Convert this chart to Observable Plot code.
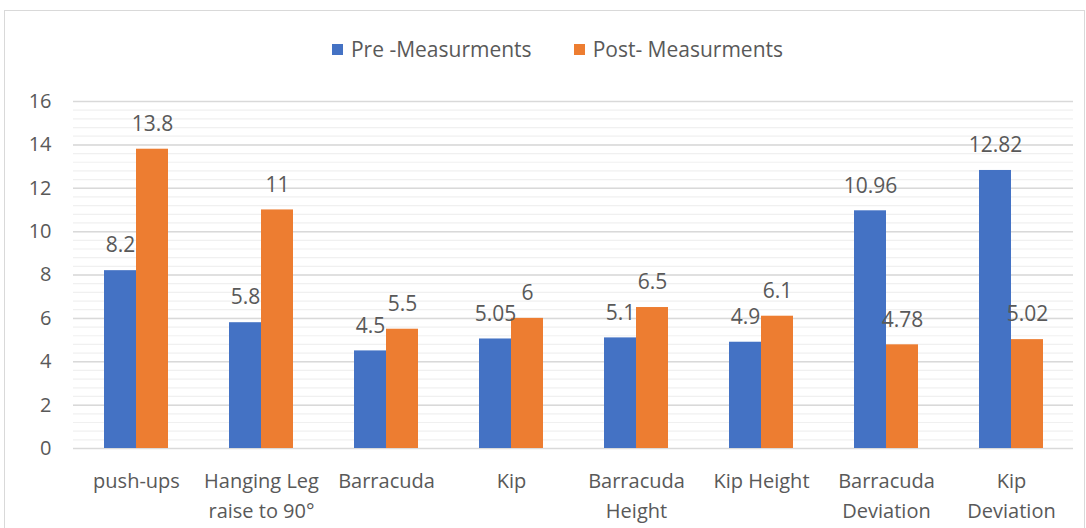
<!DOCTYPE html>
<html>
<head>
<meta charset="utf-8">
<script src="https://cdn.jsdelivr.net/npm/d3@7"></script>
<script src="https://cdn.jsdelivr.net/npm/@observablehq/plot@0.6"></script>
<style>
  html, body { margin: 0; padding: 0; background: #fff; }
  #chart { position: relative; width: 1086px; height: 528px; overflow: hidden;
           font-family: "Open Sans", "Noto Sans", sans-serif; color: #595959; }
  #frame { position: absolute; left: 4px; top: 10px; width: 1081px; height: 530px;
           border: 1.5px solid #d9d9d9; box-sizing: border-box; }
  #legend { position: absolute; top: 35px; left: 0; width: 100%; box-sizing: border-box;
            padding-left: 29px; display: flex; justify-content: center; gap: 42px;
            font-size: 21px; line-height: 28px; }
  #legend span.item { display: flex; align-items: center; gap: 8px; }
  #legend i { display: inline-block; width: 11px; height: 11px; }
  .layer { position: absolute; left: 0; top: 70px; }
</style>
</head>
<body>
<div id="chart">
  <div id="frame"></div>
  <div id="legend"></div>
  <div id="grid" class="layer"></div>
  <div id="bars" class="layer"></div>
</div>
<script>
// Exercise categories and their wrapped axis labels
const categories = ["push-ups", "Hanging Leg raise to 90°", "Barracuda", "Kip",
  "Barracuda Height", "Kip Height", "Barracuda Deviation", "Kip Deviation"];
const categoryLabels = ["push-ups", "Hanging Leg\nraise to 90°", "Barracuda", "Kip",
  "Barracuda\nHeight", "Kip Height", "Barracuda\nDeviation", "Kip\nDeviation"];

// Series
const seriesNames = ["Pre -Measurments", "Post- Measurments"];
const seriesColors = ["#4472C4", "#ED7D31"];
const preValues = [8.2, 5.8, 4.5, 5.05, 5.1, 4.9, 10.96, 12.82];
const postValues = [13.8, 11, 5.5, 6, 6.5, 6.1, 4.78, 5.02];

// Value axis ticks
const yMajorTicks = [0, 2, 4, 6, 8, 10, 12, 14, 16];
const yMinorTicks = d3.range(0, 16.001, 0.4);

const rows = categories.flatMap((c, i) => [
  {category: c, series: seriesNames[0], value: preValues[i]},
  {category: c, series: seriesNames[1], value: postValues[i]}
]);

// Legend
const legend = document.getElementById("legend");
seriesNames.forEach((name, i) => {
  const item = document.createElement("span");
  item.className = "item";
  const sw = document.createElement("i");
  sw.style.background = seriesColors[i];
  item.appendChild(sw);
  item.appendChild(document.createTextNode(name));
  legend.appendChild(item);
});

const labelOf = new Map(categories.map((c, i) => [c, categoryLabels[i]]));

// Shared frame geometry for the two stacked layers
const frame = {
  width: 1086,
  height: 458,
  marginTop: 31,
  marginBottom: 80,
  marginLeft: 73,
  marginRight: 13,
  style: {fontFamily: "'Open Sans', 'Noto Sans', sans-serif", color: "#595959", background: "transparent"}
};
const yScale = {domain: [0, 16], axis: null};

// Back layer: full-width gridlines and the value axis
const gridPlot = Plot.plot({
  ...frame,
  y: yScale,
  marks: [
    Plot.ruleY(yMinorTicks, {stroke: "#f0f0f0", strokeWidth: 1.2}),
    Plot.ruleY(yMajorTicks, {stroke: "#d9d9d9", strokeWidth: 1.5}),
    Plot.axisY({ticks: yMajorTicks, tickSize: 0, tickPadding: 22, fontSize: 20, fill: "#595959", label: null})
  ]
});
document.getElementById("grid").appendChild(gridPlot);

// Front layer: grouped bars, value labels and category axis
const barPlot = Plot.plot({
  ...frame,
  fx: {domain: categories, paddingInner: 0.488, paddingOuter: 0.244, label: null, axis: null},
  x: {domain: seriesNames, padding: 0, axis: null},
  y: yScale,
  color: {domain: seriesNames, range: seriesColors},
  marks: [
    Plot.barY(rows, {fx: "category", x: "series", y: "value", fill: "series"}),
    Plot.text(rows, {fx: "category", x: "series", y: "value", text: d => String(d.value),
      dy: -25, fontSize: 21, fill: "#595959", lineAnchor: "middle"}),
    Plot.axisFx({anchor: "bottom", tickSize: 0, tickPadding: 18, fontSize: 20, lineHeight: 1.5,
      fill: "#595959", tickFormat: c => labelOf.get(c), label: null})
  ]
});
document.getElementById("bars").appendChild(barPlot);
</script>
</body>
</html>
